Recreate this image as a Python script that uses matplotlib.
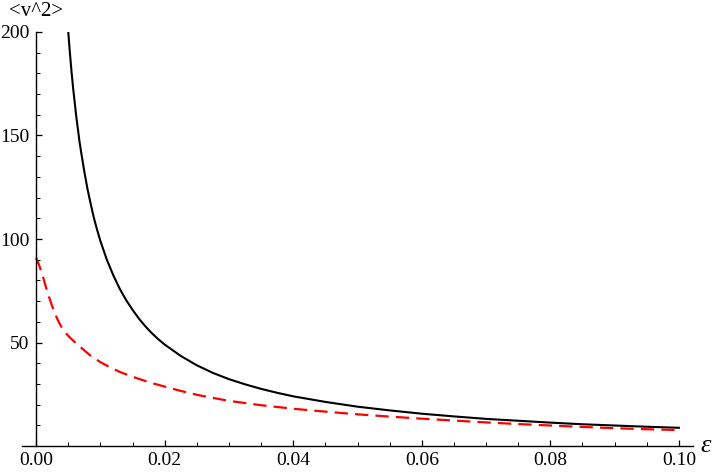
import numpy as np
import matplotlib.pyplot as plt
from matplotlib.ticker import MultipleLocator

# black solid curve
eps_black = [0.005, 0.00525, 0.0055, 0.00575, 0.006, 0.00625, 0.0065, 0.00675,
             0.007, 0.0075, 0.008, 0.0085, 0.009, 0.0095, 0.010, 0.011, 0.012,
             0.013, 0.014, 0.015, 0.016, 0.017, 0.018, 0.019, 0.020, 0.0225,
             0.025, 0.0275, 0.030, 0.0325, 0.035, 0.0375, 0.040, 0.045, 0.050,
             0.055, 0.060, 0.065, 0.070, 0.075, 0.080, 0.085, 0.090, 0.095, 0.100]
v2_black = [200, 190, 181, 173, 166, 159, 153, 147,
            142, 132.5, 124, 116.8, 110, 104.3, 99, 90, 82.5,
            76, 70.5, 65.8, 61.5, 57.8, 54.5, 51.6, 49, 43.5,
            39, 35.3, 32.3, 29.8, 27.6, 25.7, 24, 21.3, 19,
            17.2, 15.6, 14.3, 13.1, 12.2, 11.3, 10.5, 9.9, 9.3, 8.8]

# red dashed curve
eps_red = [0.0, 0.0005, 0.001, 0.0015, 0.002, 0.0025, 0.003, 0.0035, 0.004,
           0.0045, 0.005, 0.006, 0.007, 0.0084, 0.010, 0.0115, 0.013, 0.0141,
           0.016, 0.018, 0.020, 0.0225, 0.0255, 0.030, 0.035, 0.040, 0.045,
           0.050, 0.055, 0.060, 0.065, 0.070, 0.075, 0.080, 0.085, 0.090,
           0.095, 0.100]
v2_red = [91, 87, 82.5, 77, 72, 67.5, 63.5, 60, 57.2,
          55, 53.2, 50.2, 47.5, 43.8, 40.5, 38, 35.8, 34.5,
          32.4, 30.4, 28.7, 26.6, 24.4, 21.8, 19.7, 18, 16.6,
          15.3, 14.2, 13.2, 12.3, 11.4, 10.6, 9.9, 9.2, 8.6,
          8.1, 7.7]

x_ticks = [0.00, 0.02, 0.04, 0.06, 0.08, 0.10]
x_tick_labels = ["0.00", "0.02", "0.04", "0.06", "0.08", "0.10"]
y_ticks = [50, 100, 150, 200]

plt.rcParams["font.family"] = ["Liberation Serif", "DejaVu Serif"]

fig = plt.figure(figsize=(7.2, 4.73), dpi=100)
ax = fig.add_axes([22 / 720, 27 / 473, 671 / 720, 414 / 473])

ax.plot(eps_black, v2_black, color="black", linewidth=1.5, solid_joinstyle="round")
ax.plot(eps_red, v2_red, color="#ff0000", linewidth=1.6, dashes=(6, 3.2))

ax.set_xlim(-0.0022, 0.1022)
ax.set_ylim(0, 200)

for side in ("top", "right"):
    ax.spines[side].set_visible(False)
ax.spines["left"].set_position(("data", 0))
ax.spines["bottom"].set_position(("data", 0))
ax.spines["left"].set_linewidth(1.0)
ax.spines["bottom"].set_linewidth(1.0)

ax.set_xticks(x_ticks)
ax.set_xticklabels(x_tick_labels)
ax.set_yticks(y_ticks)
ax.xaxis.set_minor_locator(MultipleLocator(0.005))
ax.yaxis.set_minor_locator(MultipleLocator(10))
ax.tick_params(which="major", direction="in", length=4.5, width=0.9, labelsize=14)
ax.tick_params(which="minor", direction="in", length=2.6, width=0.7)
ax.tick_params(axis="x", which="major", pad=4)
ax.tick_params(axis="y", which="major", pad=5)

fig.text(36 / 720, 1 - 11 / 473, "<v^2>", fontsize=15, ha="center", va="center")
fig.text(706 / 720, 1 - 446 / 473, "ε", fontsize=19, style="italic",
         ha="center", va="center")

plt.savefig("out.png", dpi=100)
plt.close(fig)
